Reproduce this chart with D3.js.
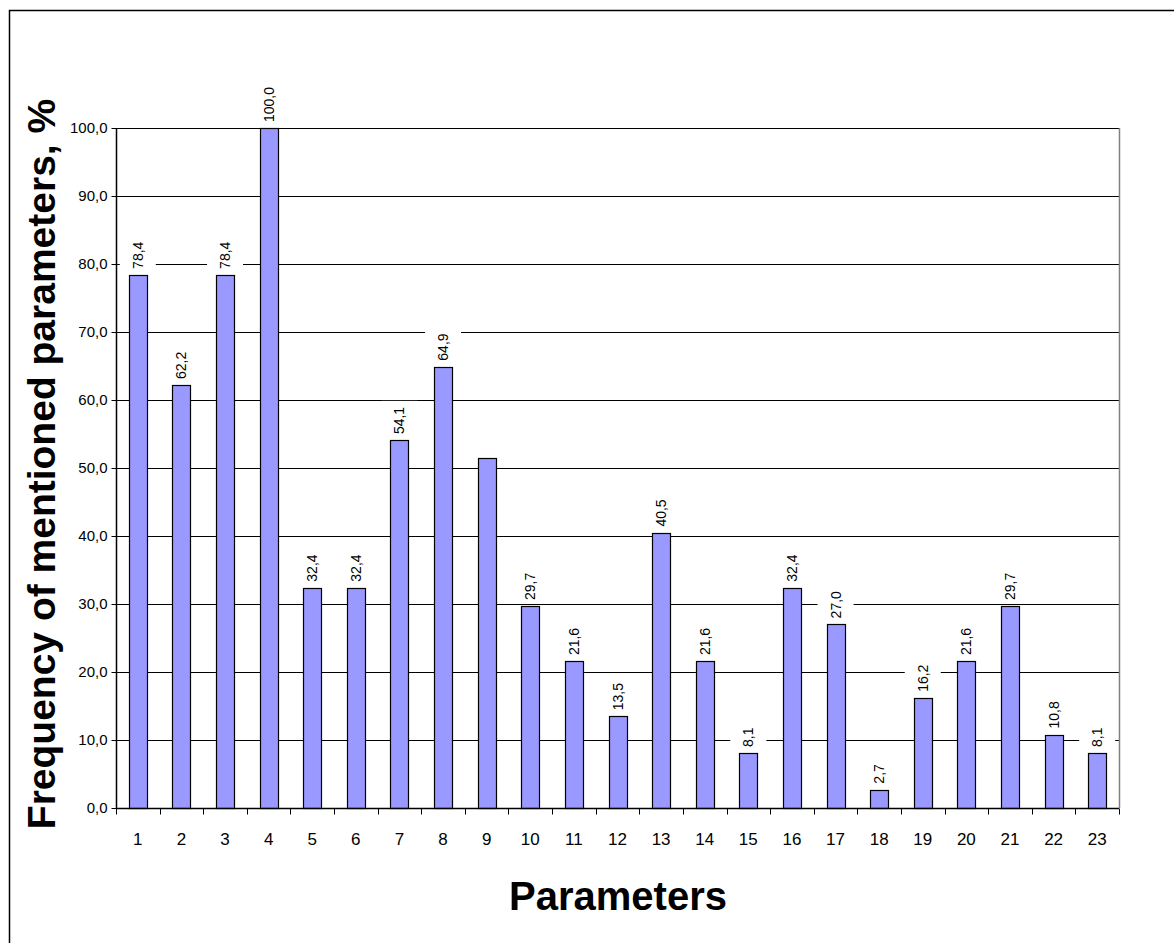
<!DOCTYPE html>
<html><head><meta charset="utf-8">
<script src="https://cdn.jsdelivr.net/npm/d3@7"></script>
<style>body{margin:0;background:#fff}svg{display:block;font-family:Arial,"Liberation Sans",sans-serif}</style>
</head><body>
<svg id="c" width="1174" height="943"></svg>
<script>
const categories = ["1","2","3","4","5","6","7","8","9","10","11","12","13","14","15","16","17","18","19","20","21","22","23"];
const values = [78.4,62.2,78.4,100.0,32.4,32.4,54.1,64.9,51.4,29.7,21.6,13.5,40.5,21.6,8.1,32.4,27.0,2.7,16.2,21.6,29.7,10.8,8.1];
const labels = ["78,4","62,2","78,4","100,0","32,4","32,4","54,1","64,9","","29,7","21,6","13,5","40,5","21,6","8,1","32,4","27,0","2,7","16,2","21,6","29,7","10,8","8,1"];
const yTicks = [0,10,20,30,40,50,60,70,80,90,100];
const yTitle = "Frequency of mentioned parameters, %";
const xTitle = "Parameters";

const svg = d3.select("#c");
const L = 116, R = 1119, T = 128, B = 808;
const x = d3.scaleBand().domain(categories).range([L, R]).paddingInner(0).paddingOuter(0);
const y = d3.scaleLinear().domain([0, 100]).range([B, T]);
const fmt = v => d3.format(".1f")(v).replace(".", ",");

// outer chart border
svg.append("rect").attr("x", 9.5).attr("y", 10.5).attr("width", 1300).attr("height", 1000)
  .attr("fill", "none").attr("stroke", "#000").attr("stroke-width", 1.5);

// gridlines
svg.append("g").selectAll("line").data(yTicks.filter(d => d > 0)).join("line")
  .attr("x1", L).attr("x2", R).attr("y1", d => Math.round(y(d)) + 0.5).attr("y2", d => Math.round(y(d)) + 0.5)
  .attr("stroke", "#000").attr("stroke-width", 1);
// right plot border
svg.append("line").attr("x1", R + 0.5).attr("x2", R + 0.5).attr("y1", T).attr("y2", B)
  .attr("stroke", "#808080").attr("stroke-width", 1.5);

// label backgrounds + labels
const lblFont = 14;
const lg = svg.append("g");
categories.forEach((c, i) => {
  if (!labels[i]) return;
  const cx = x(c) + x.bandwidth() / 2;
  const top = y(values[i]);
  const t = lg.append("text").attr("transform", `translate(${cx + lblFont * 0.36},${top - 6}) rotate(-90)`)
    .attr("font-size", lblFont).attr("fill", "#000").text(labels[i]);
  const len = t.node().getComputedTextLength();
  lg.insert("rect", "text").attr("x", cx - 18).attr("y", top - 6 - len - 6).attr("width", 36).attr("height", len + 8)
    .attr("fill", "#fff");
});

// bars
const bw = 18;
svg.append("g").selectAll("rect").data(values).join("rect")
  .attr("x", (d, i) => Math.round(x(categories[i]) + x.bandwidth() / 2 - bw / 2) + 0.5)
  .attr("y", d => Math.round(y(d)) + 0.5)
  .attr("width", bw).attr("height", d => Math.round(y(0)) - Math.round(y(d)))
  .attr("fill", "#9999FF").attr("stroke", "#000").attr("stroke-width", 1.2);

lg.raise();

// y axis
const ya = d3.axisLeft(y).tickValues(yTicks).tickFormat(fmt).tickSize(5).tickPadding(4);
const yg = svg.append("g").attr("transform", `translate(${L + 0.5},0)`).call(ya);
yg.select(".domain").attr("stroke", "#000").attr("stroke-width", 1.5).attr("d", `M0,${T}V${B}`);
yg.selectAll("text").attr("font-size", 15).attr("font-family", "Arial,'Liberation Sans',sans-serif").attr("fill", "#000");
yg.selectAll(".tick line").attr("stroke", "#000");

// x axis
const xa = d3.axisBottom(x).tickSize(0).tickPadding(24);
const xg = svg.append("g").attr("transform", `translate(0,${B + 0.5})`).call(xa);
xg.select(".domain").attr("stroke", "#000").attr("stroke-width", 1.5).attr("d", `M${L},0H${R}`);
xg.selectAll("text").attr("font-size", 17).attr("font-family", "Arial,'Liberation Sans',sans-serif").attr("fill", "#000");
// boundary ticks
const bounds = categories.map(c => x(c)).concat([R]);
xg.append("g").selectAll("line").data(bounds).join("line")
  .attr("x1", d => Math.round(d) + 0.5).attr("x2", d => Math.round(d) + 0.5).attr("y1", 0).attr("y2", 6)
  .attr("stroke", "#000");

// titles
svg.append("text").attr("transform", `translate(55,464) rotate(-90)`).attr("text-anchor", "middle")
  .attr("font-size", 39).attr("font-weight", "bold").attr("fill", "#000").text(yTitle);
svg.append("text").attr("x", 618).attr("y", 910).attr("text-anchor", "middle")
  .attr("font-size", 40).attr("font-weight", "bold").attr("fill", "#000").text(xTitle);
</script>
</body></html>
